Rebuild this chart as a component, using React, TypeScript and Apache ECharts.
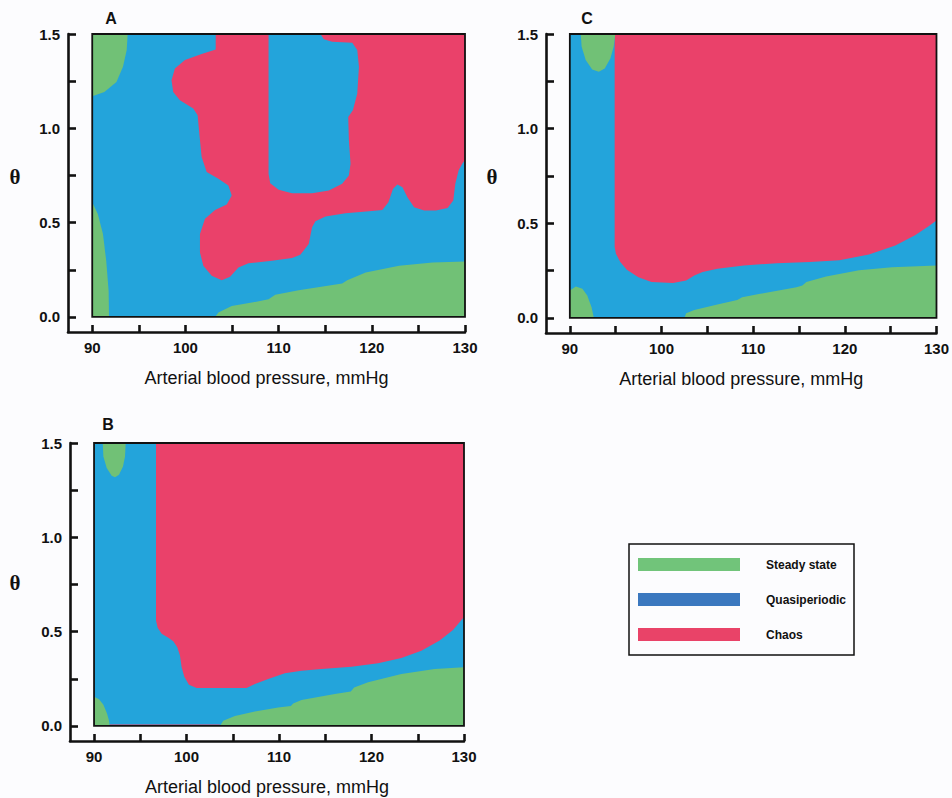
import React, { useEffect, useRef } from 'react';
import * as echarts from 'echarts';

// ---------- axes ----------
const xTickValues = [90, 95, 100, 105, 110, 115, 120, 125, 130];
const xLabelValues = [90, 100, 110, 120, 130];
const yTickValues = [0, 0.25, 0.5, 0.75, 1, 1.25, 1.5];
const yLabelValues = [0, 0.5, 1, 1.5];
const xRange = [87.4, 130];
const yRange = [-0.08, 1.5];
const xDomain = [90, 130];
const yDomain = [0, 1.5];
const xTitle = 'Arterial blood pressure, mmHg';
const yTitle = 'θ';
const panelNames = ['A', 'C', 'B'];
const legendLabels = ['Steady state', 'Quasiperiodic', 'Chaos'];

// ---------- panel A regions (x: mmHg, y: θ) ----------
const aQuasi = [[90, 0], [130, 0], [130, 1.5], [90, 1.5]];
const aSteadyTop = [[90, 1.5], [93.8, 1.5], [93.7, 1.415], [93.3, 1.326], [92.6, 1.246], [91.3, 1.193], [90, 1.17]];
const aSteadyLeft = [[90, 0.608], [90.6, 0.546], [91.15, 0.44], [91.5, 0.298], [91.76, 0.138], [91.8, 0], [90, 0]];
const aSteadyBottom = [
  [103.18, 0], [103.54, 0.023], [104.97, 0.0585], [107.13, 0.076], [108.92, 0.094], [109.64, 0.117],
  [112.15, 0.142], [116.82, 0.177], [117.36, 0.195], [119.34, 0.236], [122.93, 0.271], [126.52, 0.289],
  [130, 0.294], [130, 0],
];
const aChaos = [
  [103.25, 1.5], [103.25, 1.418], [101.74, 1.394], [99.95, 1.362], [98.87, 1.317], [98.51, 1.255],
  [98.69, 1.193], [99.41, 1.149], [100.84, 1.105], [101.31, 1.069], [101.49, 0.972], [101.74, 0.848],
  [102.28, 0.768], [103.54, 0.732], [104.61, 0.697], [104.97, 0.644], [104.43, 0.596], [103.18, 0.567],
  [102.1, 0.52], [101.56, 0.44], [101.56, 0.342], [101.92, 0.271], [102.82, 0.218], [103.9, 0.195],
  [104.79, 0.213], [105.69, 0.262], [106.77, 0.284], [109.28, 0.298], [111.44, 0.312], [112.33, 0.33],
  [113.23, 0.387], [113.59, 0.475], [113.95, 0.507], [115.03, 0.532], [117.18, 0.55], [119.69, 0.56],
  [121.13, 0.567], [121.78, 0.608], [122.28, 0.679], [122.75, 0.702], [123.29, 0.688], [123.82, 0.635],
  [124.54, 0.582], [125.62, 0.564], [126.88, 0.564], [128.13, 0.578], [128.74, 0.617], [128.96, 0.706],
  [129.32, 0.777], [129.75, 0.816], [130, 0.83], [130, 1.5], [114.49, 1.5], [114.85, 1.472],
  [115.75, 1.459], [117.9, 1.454], [118.44, 1.415], [118.62, 1.326], [118.44, 1.184], [117.97, 1.096],
  [117.47, 1.06], [117.54, 0.936], [117.72, 0.812], [117.54, 0.75], [116.82, 0.706], [115.39, 0.67],
  [113.59, 0.656], [111.44, 0.656], [110.0, 0.674], [109.1, 0.709], [108.92, 0.759], [108.92, 1.5],
];

// ---------- panel C regions ----------
const cQuasi = [[90, 0], [130, 0], [130, 1.5], [90, 1.5]];
const cSteadyTop = [
  [91.19, 1.5], [91.29, 1.433], [91.73, 1.362], [92.44, 1.313], [93.16, 1.3], [93.81, 1.318],
  [94.42, 1.371], [94.78, 1.433], [94.96, 1.5],
];
const cSteadyLeft = [[90, 0.145], [90.65, 0.166], [91.37, 0.154], [91.9, 0.118], [92.37, 0.056], [92.62, 0], [90, 0]];
const cSteadyBottom = [
  [102.51, 0], [102.69, 0.025], [103.58, 0.042], [106.1, 0.071], [108.26, 0.095], [108.8, 0.109],
  [110.77, 0.127], [114.73, 0.162], [115.37, 0.171], [115.8, 0.189], [117.96, 0.219], [121.55, 0.251],
  [125.15, 0.268], [130, 0.277], [130, 0],
];
const cChaos = [
  [94.89, 1.5], [94.89, 0.374], [95.03, 0.339], [95.5, 0.295], [96.22, 0.254], [97.48, 0.215],
  [98.91, 0.189], [101.25, 0.184], [102.69, 0.198], [103.58, 0.224], [104.48, 0.242], [106.1, 0.259],
  [108.98, 0.277], [112.57, 0.289], [116.16, 0.295], [119.4, 0.304], [122.63, 0.335], [125.51, 0.383],
  [127.66, 0.436], [129.1, 0.483], [130, 0.515], [130, 1.5],
];

// ---------- panel B regions ----------
const bQuasi = [[90, 0], [130, 0], [130, 1.5], [90, 1.5]];
const bSteadyTop = [
  [90.94, 1.5], [91.01, 1.429], [91.37, 1.367], [91.91, 1.326], [92.27, 1.319], [92.7, 1.331],
  [93.13, 1.376], [93.35, 1.429], [93.42, 1.5],
];
const bSteadyLeft = [[90, 0.154], [90.54, 0.142], [91.01, 0.112], [91.4, 0.066], [91.62, 0.027], [91.69, 0], [90, 0]];
const bSteadyBottom = [
  [103.61, 0], [103.97, 0.027], [105.23, 0.053], [107.39, 0.076], [109.91, 0.098], [111.28, 0.105],
  [111.53, 0.119], [112.43, 0.137], [116.03, 0.169], [117.76, 0.183], [118.12, 0.204], [119.63, 0.231],
  [123.23, 0.275], [126.83, 0.302], [130, 0.311], [130, 0],
];
const bChaos = [
  [96.7, 1.5], [96.7, 0.559], [96.88, 0.52], [97.31, 0.488], [98.03, 0.467], [98.57, 0.449],
  [99.0, 0.417], [99.29, 0.373], [99.47, 0.311], [99.76, 0.261], [100.26, 0.218], [101.09, 0.201],
  [106.49, 0.201], [107.39, 0.222], [108.83, 0.249], [110.63, 0.279], [112.43, 0.293], [114.59, 0.302],
  [117.83, 0.314], [120.71, 0.332], [123.23, 0.36], [125.39, 0.399], [127.37, 0.453], [128.81, 0.509],
  [130, 0.577], [130, 1.5],
];
const bChaosStrip = [[91.7, 0], [103.6, 0], [103.6, 0.008], [91.7, 0.008]];

const panelRegions = [
  { quasi: [aQuasi], chaos: [aChaos], steady: [aSteadyTop, aSteadyLeft, aSteadyBottom] },
  { quasi: [cQuasi], chaos: [cChaos], steady: [cSteadyTop, cSteadyLeft, cSteadyBottom] },
  { quasi: [bQuasi], chaos: [bChaos, bChaosStrip], steady: [bSteadyTop, bSteadyLeft, bSteadyBottom] },
];

// ---------- layout & style ----------
const grids = [
  { left: 68, top: 34, width: 397, height: 298 },
  { left: 546, top: 34, width: 396, height: 299 },
  { left: 70, top: 443, width: 394, height: 298 },
];
const panelLabelPos = [[111, 18], [587, 18], [108, 424]];
const thetaPos = [[15, 177], [492, 177], [15, 583]];
const COLORS = { steady: '#71c176', quasi: '#23a4db', chaos: '#ea416a' };
const LEGEND_COLORS = ['#71c47a', '#3b78bf', '#e94368'];
const FONT = '"Liberation Sans", Arial, Helvetica, sans-serif';

function polygonSeries(idx: number, pts: number[][], color: string, z: number) {
  return {
    type: 'custom',
    xAxisIndex: idx,
    yAxisIndex: idx,
    silent: true,
    z,
    data: pts,
    encode: { x: 0, y: 1 },
    renderItem: (params: any, api: any) => {
      if (params.dataIndex !== 0) return null;
      return {
        type: 'polygon',
        shape: { points: pts.map((p) => api.coord(p)) },
        style: { fill: color, stroke: null },
      };
    },
  };
}

function borderSeries(idx: number) {
  const corners = [[xDomain[0], yDomain[1]], [xDomain[1], yDomain[0]]];
  return {
    type: 'custom',
    xAxisIndex: idx,
    yAxisIndex: idx,
    silent: true,
    z: 10,
    data: corners,
    encode: { x: 0, y: 1 },
    renderItem: (params: any, api: any) => {
      if (params.dataIndex !== 0) return null;
      const a = api.coord(corners[0]);
      const b = api.coord(corners[1]);
      return {
        type: 'rect',
        shape: { x: a[0], y: a[1], width: b[0] - a[0], height: b[1] - a[1] },
        style: { fill: 'none', stroke: '#111', lineWidth: 1.8 },
      };
    },
  };
}

export default function App() {
  const ref = useRef<HTMLDivElement>(null);
  useEffect(() => {
    if (!ref.current) return;
    const chart = echarts.init(ref.current, undefined, { renderer: 'svg' });

    const xAxes = grids.map((_, i) => ({
      type: 'value',
      gridIndex: i,
      min: xRange[0],
      max: xRange[1],
      name: xTitle,
      nameLocation: 'middle',
      nameGap: 37,
      nameTextStyle: { fontFamily: FONT, fontSize: 18, color: '#111' },
      axisLine: { show: true, onZero: false, lineStyle: { color: '#111', width: 2.6 } },
      axisTick: { show: true, inside: true, length: 7, customValues: xTickValues, lineStyle: { color: '#111', width: 2.6 } },
      axisLabel: {
        customValues: xLabelValues,
        margin: 8,
        fontFamily: FONT,
        fontSize: 15,
        fontWeight: 'bold',
        color: '#111',
      },
      splitLine: { show: false },
    }));
    const yAxes = grids.map((_, i) => ({
      type: 'value',
      gridIndex: i,
      min: yRange[0],
      max: yRange[1],
      axisLine: { show: true, onZero: false, lineStyle: { color: '#111', width: 2.6 } },
      axisTick: { show: true, inside: true, length: 8, customValues: yTickValues, lineStyle: { color: '#111', width: 2.6 } },
      axisLabel: {
        customValues: yLabelValues,
        margin: 8,
        fontFamily: FONT,
        fontSize: 15,
        fontWeight: 'bold',
        color: '#111',
        formatter: (v: number) => v.toFixed(1),
      },
      splitLine: { show: false },
    }));

    const series: any[] = [];
    panelRegions.forEach((r, i) => {
      r.quasi.forEach((p) => series.push(polygonSeries(i, p, COLORS.quasi, 1)));
      r.chaos.forEach((p) => series.push(polygonSeries(i, p, COLORS.chaos, 2)));
      r.steady.forEach((p) => series.push(polygonSeries(i, p, COLORS.steady, 3)));
      series.push(borderSeries(i));
    });

    const graphics: any[] = [];
    panelNames.forEach((n, i) => {
      graphics.push({
        type: 'text',
        x: panelLabelPos[i][0],
        y: panelLabelPos[i][1],
        style: { text: n, fontFamily: FONT, fontSize: 16, fontWeight: 'bold', fill: '#111', align: 'center', verticalAlign: 'middle' },
      });
      graphics.push({
        type: 'text',
        x: thetaPos[i][0],
        y: thetaPos[i][1],
        style: { text: yTitle, fontFamily: '"Liberation Serif", "Times New Roman", serif', fontSize: 21, fontWeight: 'bold', fill: '#111', align: 'center', verticalAlign: 'middle' },
      });
    });
    // legend
    graphics.push({
      type: 'rect',
      shape: { x: 629, y: 544, width: 225, height: 111 },
      style: { fill: 'none', stroke: '#111', lineWidth: 1.5 },
    });
    const legendY = [558, 593, 628];
    legendLabels.forEach((lab, i) => {
      graphics.push({
        type: 'rect',
        shape: { x: 638, y: legendY[i], width: 102, height: 13 },
        style: { fill: LEGEND_COLORS[i] },
      });
      graphics.push({
        type: 'text',
        x: 766,
        y: legendY[i] + 7,
        style: { text: lab, fontFamily: FONT, fontSize: 12, fontWeight: 'bold', fill: '#111', align: 'left', verticalAlign: 'middle' },
      });
    });

    chart.setOption({
      animation: false,
      backgroundColor: '#fcfcfe',
      grid: grids.map((g) => ({ ...g, containLabel: false })),
      xAxis: xAxes,
      yAxis: yAxes,
      series,
      graphic: graphics,
    });
    return () => chart.dispose();
  }, []);
  return (
    <div
      ref={ref}
      style={{ position: 'absolute', left: 0, top: 0, width: 952, height: 798 }}
    />
  );
}
